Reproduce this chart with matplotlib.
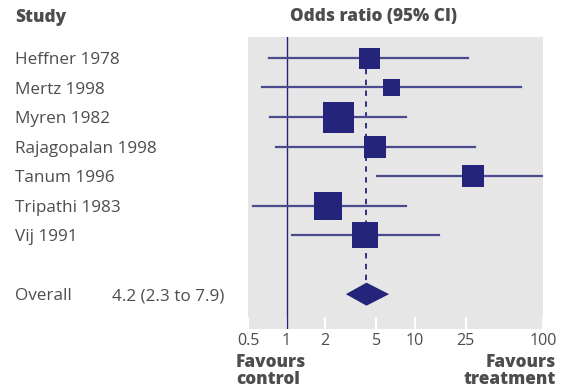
import numpy as np
import matplotlib
matplotlib.use("Agg")
import matplotlib.pyplot as plt
from matplotlib.patches import Polygon

# datos
studies = ["Heffner 1978", "Mertz 1998", "Myren 1982", "Rajagopalan 1998",
           "Tanum 1996", "Tripathi 1983", "Vij 1991"]
odds = [4.4, 6.5, 2.5, 4.9, 28.7, 2.1, 4.1]
lower = [0.73, 0.64, 0.74, 0.82, 5.1, 0.55, 1.1]
upper = [25.9, 67.5, 8.5, 29.5, 100, 8.5, 15.4]
weight = [21, 17, 31, 22, 22, 28, 27]  # ancho del cuadrado (px)

overall_or = 4.2
overall_lo = 2.9
overall_hi = 6.3
overall_text = "4.2 (2.3 to 7.9)"

ticks = [0.5, 1, 2, 5, 10, 25, 100]
tick_labels = ["0.5", "1", "2", "5", "10", "25", "100"]

navy = "#24247a"
ci_col = "#4a4a8e"
txt = "#4d4d4d"

plt.rcParams['font.family'] = ['Open Sans', 'DejaVu Sans']

fig = plt.figure(figsize=(5.75, 3.92), dpi=100)
ax = fig.add_axes([248/575, 1 - 329/392, 295/575, 292/392])
ax.set_facecolor("#e6e6e6")
for s in ax.spines.values():
    s.set_visible(False)

ax.set_xscale("log")
ax.set_xlim(0.5, 100)
n = len(studies)
rows = np.arange(n)
row_overall = n + 1
ax.set_ylim(row_overall + 1.18, -0.71)

# linea de no efecto
ax.axvline(1, color=navy, lw=1, zorder=2)
# linea del efecto global
ax.plot([overall_or, overall_or], [0, row_overall - 0.39], color=navy,
        lw=1.3, ls=(0, (3, 3)), zorder=2)

for i in range(n):
    ax.plot([lower[i], upper[i]], [rows[i], rows[i]], color=ci_col, lw=1.6, zorder=3)
    ax.plot(odds[i], rows[i], marker="s", ms=weight[i] * 0.72, color=navy,
            mew=0, zorder=4)

# diamante
dm = Polygon([[overall_lo, row_overall], [overall_or, row_overall - 0.39],
              [overall_hi, row_overall], [overall_or, row_overall + 0.39]],
             closed=True, color=navy, lw=0, zorder=4)
ax.add_patch(dm)

ax.set_yticks([])
ax.set_xticks(ticks)
ax.set_xticklabels(tick_labels)
ax.minorticks_off()
ax.tick_params(axis="x", direction="in", length=9, width=1.5, color="white",
               labelcolor=txt, labelsize=11.6, pad=3)

# textos
fs = 12.3
fb = 12.3
fig.text(15/575, 1 - 17/392, "Study", fontsize=fb, fontweight=800, color=txt,
         va="center", ha="left")
fig.text(290/575, 1 - 17/392, "Odds ratio (95% CI)", fontsize=fb, fontweight=800,
         color=txt, va="center", ha="left")

tr = ax.get_yaxis_transform()
xlab = (15 - 248) / 295
for i in range(n):
    ax.annotate(studies[i], xy=(xlab, rows[i]), xycoords=tr, xytext=(0, -4.4),
                textcoords="offset points", fontsize=fs, color=txt,
                va="baseline", ha="left")
ax.annotate("Overall", xy=(xlab, row_overall), xycoords=tr, xytext=(0, -4.4),
            textcoords="offset points", fontsize=fs, color=txt,
            va="baseline", ha="left")
ax.annotate(overall_text, xy=((112 - 248) / 295, row_overall), xycoords=tr,
            xytext=(0, -4.4), textcoords="offset points", fontsize=fs, color=txt,
            va="baseline", ha="left")

fig.text(236/575, 1 - 371/392, "Favours\ncontrol", fontsize=fb, fontweight=800,
         color=txt, va="center", ha="left", linespacing=1.05)
fig.text(556/575, 1 - 371/392, "Favours\ntreatment", fontsize=fb, fontweight=800,
         color=txt, va="center", ha="right", multialignment="right",
         linespacing=1.05)

fig.savefig("out.png", dpi=100)
